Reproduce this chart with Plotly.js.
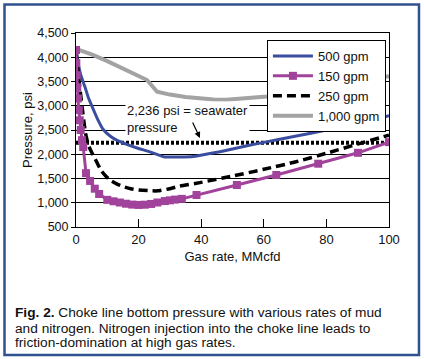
<!DOCTYPE html>
<html>
<head>
<meta charset="utf-8">
<script src="https://cdn.plot.ly/plotly-3.0.1.min.js"></script>
<style>
html,body{margin:0;padding:0;background:#fff;}
#chart{width:424px;height:359px;}
</style>
</head>
<body>
<div id="chart"></div>
<script>
// ---- data ----
var gray1000X = [0, 5, 10, 15, 20, 22.7, 25.9, 30, 35, 38.6, 44, 48, 55, 61, 70, 80, 90, 97.8, 100];
var gray1000Y = [4170, 4060, 3920, 3770, 3620, 3530, 3290, 3230, 3180, 3155, 3130, 3125, 3150, 3190, 3250, 3350, 3470, 3590, 3610];

var blue500X = [0, 0.7, 1.5, 2.9, 4, 5.5, 7, 8.7, 11, 13, 16, 19.5, 23.6, 28, 33, 37.5, 45, 50, 55, 60, 70, 80, 90, 100];
var blue500Y = [4150, 3870, 3640, 3380, 3160, 2930, 2710, 2510, 2370, 2290, 2210, 2130, 2050, 1950, 1945, 1955, 2040, 2110, 2180, 2245, 2370, 2500, 2640, 2795];

var dash250X = [0, 1, 2, 3, 4, 5, 6, 7, 8, 9.5, 11, 13, 15, 17.5, 20, 23, 26, 30, 33, 40, 50, 60, 70, 80, 90, 100];
var dash250Y = [4150, 3500, 2950, 2450, 2180, 2040, 1920, 1790, 1670, 1550, 1465, 1390, 1335, 1290, 1265, 1250, 1245, 1290, 1340, 1420, 1550, 1690, 1840, 2020, 2210, 2395];

var pink150X = [0, 0.1, 0.2, 0.4, 0.6, 0.9, 1.2, 1.5, 1.9, 2.3, 3.2, 4.5, 6, 7.4, 10, 12, 14, 16, 18, 20, 22, 24, 26, 28.4, 30, 31.6, 33.8, 38.5, 51.4, 64, 77.4, 90.1, 100];
var pink150Y = [4150, 3880, 3630, 3380, 3150, 2910, 2700, 2500, 2290, 2150, 1610, 1450, 1290, 1180, 1060, 1030, 1005, 980, 962, 955, 960, 975, 1005, 1035, 1050, 1065, 1080, 1160, 1366, 1572, 1805, 2030, 2250];

var refX = [0, 100];
var refY = [2236, 2236];

var seriesNames = ["500 gpm", "150 gpm", "250 gpm", "1,000 gpm"];
var xTickVals = [0, 20, 40, 60, 80, 100];
var yTickVals = [500, 1000, 1500, 2000, 2500, 3000, 3500, 4000, 4500];

var narrow = "Liberation Sans Narrow, Arial Narrow, Liberation Sans, sans-serif";
var regular = "Liberation Sans, Arial, Helvetica, sans-serif";

var traces = [
  {x: gray1000X, y: gray1000Y, name: seriesNames[3], mode: "lines", legendrank: 4,
   line: {color: "#a3a3a3", width: 4}},
  {x: refX, y: refY, mode: "lines", showlegend: false, hoverinfo: "skip",
   line: {color: "#000", width: 4, dash: "3px,2px"}},
  {x: blue500X, y: blue500Y, name: seriesNames[0], mode: "lines", legendrank: 1,
   line: {color: "#3a4d9f", width: 3, shape: "spline", smoothing: 0.6}},
  {x: dash250X, y: dash250Y, name: seriesNames[2], mode: "lines", legendrank: 3,
   line: {color: "#000", width: 3.5, dash: "9px,5px", shape: "spline", smoothing: 0.6}},
  {x: pink150X, y: pink150Y, name: seriesNames[1], mode: "lines+markers", legendrank: 2,
   line: {color: "#a1429b", width: 3},
   marker: {symbol: "square", size: 8, color: "#a1429b"}}
];

var layout = {
  width: 424, height: 359,
  margin: {l: 76, r: 35, t: 33, b: 132},
  paper_bgcolor: "#fff", plot_bgcolor: "#fff",
  font: {family: narrow, size: 13, color: "#111"},
  showlegend: true,
  legend: {x: 0.61, y: 0.964, xanchor: "left", yanchor: "top",
           bgcolor: "#fff", bordercolor: "#000", borderwidth: 1,
           font: {family: narrow, size: 13, color: "#111"}, itemwidth: 40, tracegroupgap: 0},
  xaxis: {range: [0, 100], tickvals: xTickVals, ticks: "inside", ticklen: 8, tickcolor: "#000",
          showgrid: false, zeroline: false, showline: true, linecolor: "#000", linewidth: 1, mirror: true,
          title: {text: "Gas rate, MMcfd", font: {family: narrow, size: 13}, standoff: 6},
          tickfont: {family: narrow, size: 13}},
  yaxis: {range: [500, 4500], tickvals: yTickVals, tickformat: ",d", ticks: "outside", ticklen: 4, tickcolor: "#000",
          showgrid: true, gridcolor: "#000", gridwidth: 1, zeroline: false,
          showline: true, linecolor: "#000", linewidth: 1, mirror: true,
          title: {text: "Pressure, psi", font: {family: narrow, size: 13}, standoff: 1},
          tickfont: {family: narrow, size: 12.5}},
  shapes: [
    {type: "rect", xref: "paper", yref: "paper", x0: -0.2284, x1: 1.0958, y0: -0.6598, y1: 1.1469,
     line: {color: "#2f5190", width: 2.5}, fillcolor: "rgba(0,0,0,0)", layer: "below"}
  ],
  annotations: [
    {x: 15.7, y: 2717, xref: "x", yref: "y", xanchor: "left", yanchor: "middle", align: "left",
     text: "2,236 psi = seawater<br>pressure", showarrow: false, bgcolor: "#fff",
     font: {family: narrow, size: 13, color: "#111"}},
    {x: 39.6, y: 2335, xref: "x", yref: "y", text: "", showarrow: true, ax: -8, ay: -17,
     arrowhead: 2, arrowsize: 1, arrowwidth: 1.2, arrowcolor: "#000"},
    {x: -0.2013, y: -0.443, xref: "paper", yref: "paper", xanchor: "left", yanchor: "middle", showarrow: false,
     text: "<b>Fig. 2.</b> Choke line bottom pressure with various rates of mud",
     font: {family: regular, size: 13.7, color: "#111"}},
    {x: -0.2013, y: -0.521, xref: "paper", yref: "paper", xanchor: "left", yanchor: "middle", showarrow: false,
     text: "and nitrogen. Nitrogen injection into the choke line leads to",
     font: {family: regular, size: 13.7, color: "#111"}},
    {x: -0.2013, y: -0.596, xref: "paper", yref: "paper", xanchor: "left", yanchor: "middle", showarrow: false,
     text: "friction-domination at high gas rates.",
     font: {family: regular, size: 13.7, color: "#111"}}
  ]
};

Plotly.newPlot("chart", traces, layout, {displayModeBar: false, staticPlot: true});
</script>
</body>
</html>
